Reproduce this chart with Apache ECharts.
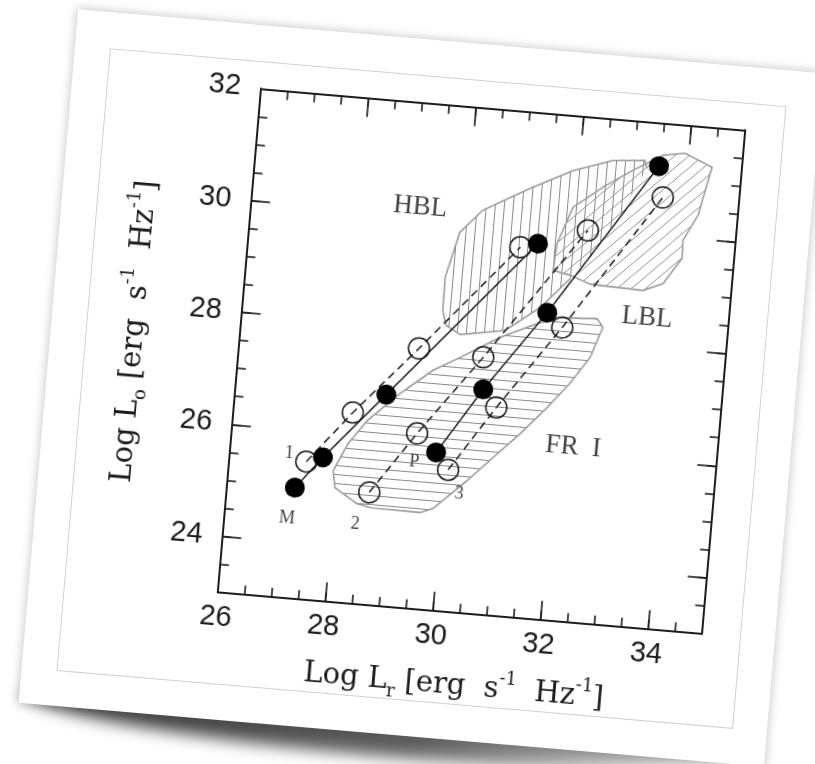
<!DOCTYPE html>
<html>
<head>
<meta charset="utf-8">
<script src="https://cdn.jsdelivr.net/npm/echarts@6/dist/echarts.min.js"></script>
<style>
  html, body { margin: 0; padding: 0; background: #fff; width: 815px; height: 764px; overflow: hidden; }
  /* the printed figure sits on a tilted photo card */
  #photo { position: absolute; left: 46.9px; top: 39.7px; width: 748px; height: 696px; transform: rotate(4.9deg); }
  #curl { position: absolute; left: 4px; width: 720px; top: 684px; height: 34px;
          background: linear-gradient(to right, rgba(0,0,0,0.78), rgba(0,0,0,0.62) 55%, rgba(0,0,0,0.12));
          filter: blur(8px); border-radius: 0 0 50% 50% / 0 0 100% 100%; }
  #card { position: absolute; left: 0; top: 0; width: 748px; height: 696px; background: #fff;
          box-shadow: 0 0 10px 1px rgba(0,0,0,0.22); }
  #frame { position: absolute; left: 35px; top: 36px; width: 679px; height: 625px;
           border: 1px solid #d2d2d2; box-sizing: border-box; }
  #chart { position: absolute; left: 0; top: 0; width: 748px; height: 696px; }
</style>
</head>
<body>
<div id="photo">
  <div id="curl"></div>
  <div id="card">
    <div id="frame"></div>
    <div id="chart"></div>
  </div>
</div>
<script>
// Axis ticks (labelled majors)
const xTicks = [26, 28, 30, 32, 34];
const yTicks = [24, 26, 28, 30, 32];

// Evolutionary tracks: [log Lr, log Lo]
const trackM = [[27.26, 24.97], [27.73, 25.55], [28.80, 26.76], [31.36, 29.67]];
const track1 = [[27.43, 25.45], [28.21, 26.39], [29.33, 27.63], [31.04, 29.58]];
const trackP = [[29.81, 25.81], [30.58, 27.00], [31.64, 28.46], [33.47, 31.23]];
const track2 = [[28.64, 25.00], [29.43, 26.12], [30.53, 27.57], [32.26, 29.98]];
const track3 = [[30.06, 25.52], [30.85, 26.70], [31.94, 28.22], [33.59, 30.68]];

// Source population regions (outline vertices)
const regionHBL = [[29.71, 28.34], [29.70, 28.93], [29.90, 29.75], [30.29, 30.18], [31.13, 30.64],
  [31.89, 31.02], [32.61, 31.26], [33.20, 31.31], [33.25, 31.17], [32.83, 30.30], [32.34, 29.54],
  [32.01, 29.10], [31.50, 28.54], [30.89, 28.08], [30.07, 27.94], [29.79, 28.08]];
// vertex indices where the HBL outline disappears under the LBL area
const hblHiddenFrom = 8, hblHiddenTo = 11;
const regionLBL = [[31.68, 29.22], [31.71, 29.70], [31.95, 30.37], [32.47, 30.77], [33.00, 31.12],
  [33.53, 31.43], [33.93, 31.50], [34.45, 31.29], [34.27, 30.42], [34.03, 29.95], [34.04, 29.63],
  [33.73, 29.15], [33.37, 29.00], [32.39, 29.03], [32.00, 29.16]];
const regionFRI = [[32.57, 28.43], [32.69, 28.28], [32.50, 27.73], [32.17, 27.24], [31.79, 26.78],
  [31.33, 26.27], [30.87, 25.81], [30.43, 25.36], [29.84, 24.81], [29.61, 24.72], [28.68, 24.73],
  [28.43, 24.78], [28.00, 25.03], [27.94, 25.33], [28.17, 25.83], [28.49, 26.27], [29.05, 26.80],
  [29.62, 27.26], [30.10, 27.53], [30.81, 27.95], [31.47, 28.25], [31.88, 28.39]];

// Region names and track tags: [x, y, text]
const regionNames = [[29.13, 30.13, 'HBL'], [33.49, 28.51, 'LBL'], [32.33, 26.11, 'FR  I']];
const trackTags = [[27.16, 24.41, 'M'], [27.10, 25.58, '1'], [28.43, 24.42, '2'],
  [29.42, 25.60, 'P'], [30.30, 25.11, '3']];

const SERIF = '"Liberation Serif", "Times New Roman", serif';
const TITLE_SERIF = '"DejaVu Serif", "Liberation Serif", serif';
const SANS = '"Liberation Sans", Arial, sans-serif';
const INK = '#1c1c1c';
const OUTLINE = '#9c9c9c';

function hatch(kind) {
  const s = kind === 'd' ? 13 : 9;
  const c = document.createElement('canvas');
  c.width = s; c.height = s;
  const g = c.getContext('2d');
  g.strokeStyle = '#8a8a8a';
  g.lineWidth = 1;
  g.beginPath();
  if (kind === 'v') { g.moveTo(0.5, 0); g.lineTo(0.5, s); }
  else if (kind === 'h') { g.moveTo(0, 0.5); g.lineTo(s, 0.5); }
  else {
    g.moveTo(-1, s + 1); g.lineTo(s + 1, -1);
    g.moveTo(-1, 1); g.lineTo(1, -1);
    g.moveTo(s - 1, s + 1); g.lineTo(s + 1, s - 1);
  }
  g.stroke();
  return { image: c, repeat: 'repeat' };
}

// hatched polygon; optionally leave part of the outline undrawn
function regionSeries(name, pts, fill, hidden) {
  return {
    type: 'custom', name: name, data: pts, z: 1, silent: true, animation: false,
    renderItem: function (params, api) {
      if (params.dataIndex !== 0) return null;
      const poly = pts.map(function (p) { return api.coord(p); });
      if (!hidden) {
        return { type: 'polygon', shape: { points: poly },
                 style: { fill: fill, stroke: OUTLINE, lineWidth: 1.6 } };
      }
      const edge = [];
      for (let k = 0; k < poly.length + 1; k++) {
        const i = (hidden[1] + k) % poly.length;
        edge.push(poly[i]);
        if (i === hidden[0]) break;
      }
      return { type: 'group', children: [
        { type: 'polygon', shape: { points: poly }, style: { fill: fill, stroke: null } },
        { type: 'polyline', shape: { points: edge }, style: { fill: null, stroke: OUTLINE, lineWidth: 1.6 } }
      ] };
    }
  };
}

function trackSeries(name, pts, filled) {
  return {
    type: 'line', name: name, data: pts, z: filled ? 4 : 3, animation: false, silent: true,
    symbol: 'circle', symbolSize: filled ? 20 : 21,
    lineStyle: { color: INK, width: 1.5, type: filled ? 'solid' : [8, 5] },
    itemStyle: filled ? { color: '#000' } : { color: 'rgba(0,0,0,0)', borderColor: INK, borderWidth: 1.5 }
  };
}

function textSeries(data, size) {
  return {
    type: 'scatter', data: data, symbolSize: 0, z: 5, silent: true, animation: false,
    label: { show: true, position: 'inside', formatter: function (p) { return p.data[2]; },
             fontFamily: SERIF, fontSize: size, color: '#111' }
  };
}

const axisLine = { show: true, lineStyle: { color: INK, width: 1.8 } };
const tickStyle = { color: INK, width: 1.6 };
const titleRich = {
  a: { fontFamily: TITLE_SERIF, fontSize: 29, lineHeight: 40, color: INK, verticalAlign: 'middle' },
  b: { fontFamily: TITLE_SERIF, fontSize: 18, lineHeight: 18, color: INK, verticalAlign: 'bottom' },
  c: { fontFamily: TITLE_SERIF, fontSize: 18, lineHeight: 18, color: INK, verticalAlign: 'top' }
};

function xAxis(pos, major, withLabels) {
  const ax = {
    type: 'value', min: 26, max: 35, position: pos, axisLine: axisLine, splitLine: { show: false },
    axisTick: { show: true, inside: true, length: major ? 19 : 9, lineStyle: tickStyle },
    axisLabel: { show: false }
  };
  if (major) {
    ax.axisTick.customValues = xTicks;
    ax.axisLabel = { show: withLabels, customValues: xTicks, margin: 11,
                     fontFamily: SANS, fontSize: 29, color: INK };
  } else {
    ax.interval = 0.5;
  }
  return ax;
}

function yAxis(pos, major, withLabels) {
  const ax = {
    type: 'value', min: 23, max: 32, position: pos, axisLine: axisLine, splitLine: { show: false },
    axisTick: { show: true, inside: true, length: major ? 19 : 9, lineStyle: tickStyle },
    axisLabel: { show: false }
  };
  if (major) {
    ax.axisTick.customValues = yTicks;
    ax.axisLabel = { show: withLabels, customValues: yTicks, margin: 20,
                     fontFamily: SANS, fontSize: 29, color: INK };
  } else {
    ax.interval = 0.5;
  }
  return ax;
}

const xs = [xAxis('bottom', false), xAxis('bottom', true, true), xAxis('top', false), xAxis('top', true, false)];
const ys = [yAxis('left', false), yAxis('left', true, true), yAxis('right', false), yAxis('right', true, false)];

xs[1].name = '{a|Log L}{b|r}{a| [erg  s}{c|-1}{a|  Hz}{c|-1}{a|]}';
xs[1].nameLocation = 'middle';
xs[1].nameGap = 54;
xs[1].nameTextStyle = { rich: titleRich };

ys[1].name = '{a|Log L}{b|o}{a| [erg  s}{c|-1}{a|  Hz}{c|-1}{a|]}';
ys[1].nameLocation = 'middle';
ys[1].nameGap = 84;
ys[1].nameTextStyle = { rich: titleRich };

const chart = echarts.init(document.getElementById('chart'), null, { renderer: 'canvas' });
chart.setOption({
  backgroundColor: 'transparent',
  animation: false,
  grid: { left: 188.8, top: 63.4, width: 486, height: 505.3, containLabel: false, outerBoundsMode: 'none' },
  xAxis: xs,
  yAxis: ys,
  series: [
    regionSeries('FR I', regionFRI, hatch('h')),
    regionSeries('HBL', regionHBL, hatch('v'), [hblHiddenFrom, hblHiddenTo]),
    regionSeries('LBL', regionLBL, hatch('d')),
    trackSeries('1', track1, false),
    trackSeries('2', track2, false),
    trackSeries('3', track3, false),
    trackSeries('M', trackM, true),
    trackSeries('P', trackP, true),
    textSeries(regionNames, 27),
    textSeries(trackTags, 18)
  ]
});
</script>
</body>
</html>
